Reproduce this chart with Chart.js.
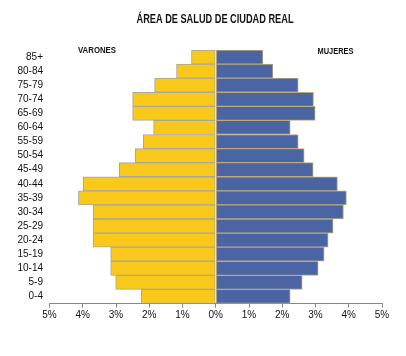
<!DOCTYPE html>
<html>
<head>
<meta charset="utf-8">
<script src="https://cdn.jsdelivr.net/npm/chart.js@4/dist/chart.umd.min.js"></script>
<style>
html,body{margin:0;padding:0;background:#fff;}
#wrap{width:406px;height:356px;}
</style>
</head>
<body>
<div id="wrap"><canvas id="c" width="406" height="356"></canvas></div>
<script>
const title = "ÁREA DE SALUD DE CIUDAD REAL";
const leftLabel = "VARONES";
const rightLabel = "MUJERES";
const categories = ["85+","80-84","75-79","70-74","65-69","60-64","55-59","50-54","45-49","40-44","35-39","30-34","25-29","20-24","15-19","10-14","5-9","0-4"];
const varones = [0.73,1.18,1.84,2.50,2.50,1.87,2.18,2.42,2.90,3.99,4.13,3.69,3.69,3.69,3.16,3.16,3.01,2.24];
const mujeres = [1.42,1.72,2.48,2.94,2.99,2.24,2.48,2.66,2.93,3.66,3.93,3.84,3.53,3.38,3.26,3.08,2.60,2.24];
const xTicks = [-5,-4,-3,-2,-1,0,1,2,3,4,5];

function drawFit(ctx, text, cx, baseline, size, width){
  ctx.save();
  ctx.font = "bold " + size + "px 'Liberation Sans', Arial, sans-serif";
  const w = ctx.measureText(text).width;
  const s = width / w;
  ctx.translate(cx, baseline);
  ctx.scale(s, 1);
  ctx.textAlign = "center";
  ctx.textBaseline = "alphabetic";
  ctx.fillStyle = "#111";
  ctx.fillText(text, 0, 0);
  ctx.restore();
}

const textPlugin = {
  id: 'texts',
  afterDraw(chart){
    const ctx = chart.ctx;
    drawFit(ctx, title, 215, 22.5, 12.5, 157);
    drawFit(ctx, leftLabel, 97, 53, 9, 38);
    drawFit(ctx, rightLabel, 335.5, 54, 9, 36);
  }
};

new Chart(document.getElementById('c'), {
  type: 'bar',
  data: {
    labels: categories,
    datasets: [
      {label: leftLabel, data: varones.map(v => -v), backgroundColor: '#F8C81A', borderColor: '#a9a69c', borderWidth: 1, borderSkipped: false, barPercentage: 1, categoryPercentage: 1},
      {label: rightLabel, data: mujeres, backgroundColor: '#4A64A4', borderColor: '#b8ab7e', borderWidth: 1, borderSkipped: false, barPercentage: 1, categoryPercentage: 1}
    ]
  },
  options: {
    indexAxis: 'y',
    responsive: false,
    animation: false,
    devicePixelRatio: 1,
    layout: {padding: {top: 50, right: 24, left: 0, bottom: 0}},
    plugins: {legend: {display: false}, tooltip: {enabled: false}, title: {display: false}},
    scales: {
      x: {
        stacked: true,
        min: -5, max: 5,
        afterBuildTicks(scale){ scale.ticks = xTicks.map(v => ({value: v})); },
        afterFit(scale){ scale.height = 52.5; },
        grid: {display: true, drawOnChartArea: false, drawTicks: true, tickLength: 4, color: '#888'},
        border: {display: true, color: '#888', width: 1},
        ticks: {
          callback: v => Math.abs(v) + '%',
          color: '#111', padding: 2,
          font: {family: "'Liberation Sans', Arial, sans-serif", size: 10},
          maxRotation: 0, autoSkip: false
        }
      },
      y: {
        stacked: true,
        afterFit(scale){ scale.width = 49.5; },
        grid: {display: false, drawTicks: false},
        border: {display: false},
        ticks: {
          color: '#111', padding: 6.5,
          font: {family: "'Liberation Sans', Arial, sans-serif", size: 10},
          autoSkip: false
        }
      }
    }
  },
  plugins: [textPlugin]
});
</script>
</body>
</html>
